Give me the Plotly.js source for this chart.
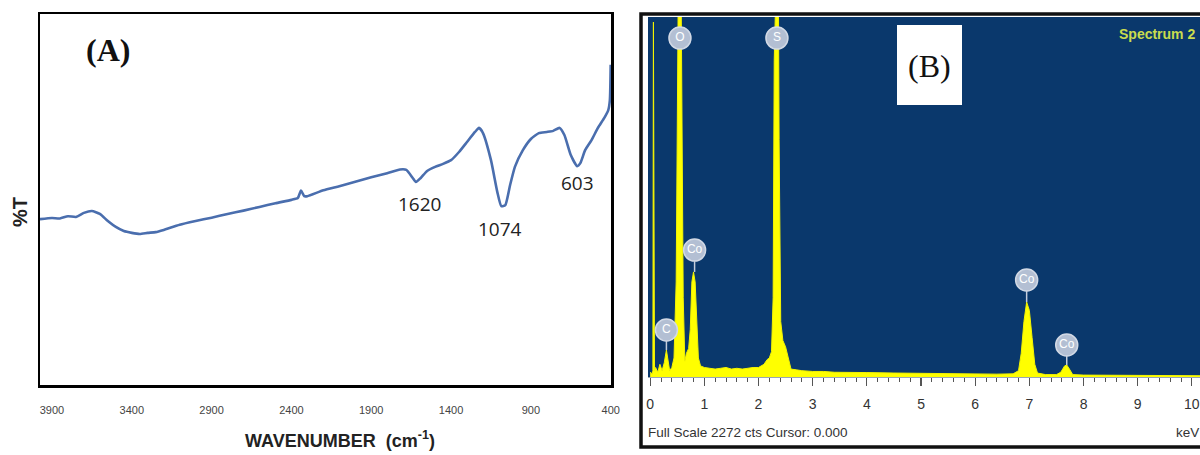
<!DOCTYPE html>
<html>
<head>
<meta charset="utf-8">
<script src="https://cdn.plot.ly/plotly-3.0.1.min.js"></script>
<style>html,body{margin:0;padding:0;background:#fff;}#chart{width:1200px;height:455px;}</style>
</head>
<body>
<div id="chart"></div>
<script>
// ---- Panel A: FTIR spectrum ----
const wavenumber = [3975,3900,3850,3800,3750,3700,3650,3600,3550,3500,3450,3400,3350,3300,3250,3200,3100,3000,2900,2800,2700,2600,2500,2400,2360,2340,2320,2300,2200,2100,2000,1900,1800,1720,1680,1640,1620,1590,1550,1500,1450,1400,1350,1300,1250,1225,1200,1150,1110,1085,1060,1030,1000,950,900,850,800,760,720,690,650,610,590,560,520,480,440,415,405,400];
const transmittance = [44.7,45.0,44.9,45.5,45.3,46.4,46.9,46.1,44.2,42.6,41.5,41.0,40.7,41.0,41.2,41.8,43.2,44.2,45.1,46.1,47.0,48.0,49.0,49.9,50.4,52.4,50.9,50.9,52.5,53.6,54.8,56.0,57.1,58.1,58.0,55.8,54.7,55.8,57.7,58.8,59.6,60.6,62.8,65.5,68.2,69.3,67.9,60.6,52.0,48.2,48.5,53.9,58.8,63.3,66.3,67.9,68.2,68.5,69.3,67.4,62.0,59.0,59.8,63.3,66.0,69.3,72.0,74.1,76.8,86.3];
const ftirTicks = [3900,3400,2900,2400,1900,1400,900,400];
const peakLabels = ["1620","1074","603"];
const peakLabelX = [1600,1094,606];
const peakLabelY = [48.8,42.0,54.4];

// ---- Panel B: EDS spectrum ----
const energy = [0.00,0.04,0.05,0.06,0.08,0.10,0.14,0.18,0.22,0.26,0.30,0.33,0.36,0.40,0.44,0.48,0.51,0.53,0.56,0.58,0.61,0.64,0.67,0.71,0.74,0.77,0.80,0.83,0.86,0.89,0.93,1.0,1.1,1.2,1.3,1.4,1.5,1.6,1.7,1.8,1.9,2.0,2.1,2.16,2.2,2.24,2.27,2.29,2.31,2.36,2.38,2.41,2.45,2.50,2.55,2.6,2.7,2.8,3.0,3.2,3.4,3.6,3.8,4.0,4.5,5.0,5.5,6.0,6.4,6.7,6.8,6.85,6.9,6.95,7.0,7.05,7.1,7.15,7.3,7.5,7.58,7.65,7.69,7.74,7.80,8.0,8.5,9.0,9.5,10.0,10.2];
const counts = [30,20,40,2240,40,60,30,80,40,90,170,100,40,60,120,600,2000,3000,3000,2000,500,100,150,180,300,600,663,600,300,120,70,60,55,50,55,60,50,55,50,55,60,60,80,110,120,160,500,2000,3000,3000,1500,350,230,190,120,50,45,40,35,35,30,30,30,28,25,22,22,20,18,20,40,150,350,473,420,250,80,25,15,15,30,70,76,50,15,12,10,10,8,8,8];
const edsTicks = [0,1,2,3,4,5,6,7,8,9,10];
const elements = ["O","S","Co","C","Co","Co"];
const elementEnergy = [0.55,2.34,0.82,0.30,6.95,7.69];
const badgeCounts = [2139,2139,801,297,612,202];
const peakTopCounts = [2070,2070,663,170,473,76];

// stems from badge to peak
const stemX = [], stemY = [];
for (let i = 0; i < elements.length; i++) {
  stemX.push(elementEnergy[i], elementEnergy[i], null);
  stemY.push(badgeCounts[i] - 70, peakTopCounts[i], null);
}

const px = v => v / 1200;
const py = v => 1 - v / 455;
const sans = "Liberation Sans, Arial, sans-serif";
const serif = "Liberation Serif, Times New Roman, serif";

const traces = [
  {x: wavenumber, y: transmittance, xaxis: 'x', yaxis: 'y', mode: 'lines',
   line: {color: '#4a6eae', width: 2.6, shape: 'spline', smoothing: 0.5}, hoverinfo: 'skip'},
  {x: energy, y: counts, xaxis: 'x2', yaxis: 'y2', mode: 'lines', fill: 'tozeroy',
   fillcolor: '#ffff00', line: {color: '#f4f400', width: 1}, hoverinfo: 'skip'},
  {x: stemX, y: stemY, xaxis: 'x2', yaxis: 'y2', mode: 'lines',
   line: {color: '#c4cddc', width: 1.5}, hoverinfo: 'skip', cliponaxis: false},
  {x: elementEnergy, y: badgeCounts, xaxis: 'x2', yaxis: 'y2', mode: 'markers+text',
   text: elements, textposition: 'middle center', cliponaxis: false,
   textfont: {family: sans, size: 12, color: '#ffffff'},
   marker: {size: 22, color: '#b3bfd3', line: {color: '#d2d9e5', width: 1.5}}, hoverinfo: 'skip'}
];

const layout = {
  width: 1200, height: 455,
  margin: {l: 0, r: 0, t: 0, b: 0},
  paper_bgcolor: '#ffffff', plot_bgcolor: 'rgba(0,0,0,0)',
  showlegend: false,
  xaxis: {domain: [px(40), px(611)], range: [3975, 398], anchor: 'y',
    tickvals: ftirTicks, ticktext: ftirTicks.map(String), ticks: '', ticklabelstandoff: 13,
    tickfont: {family: sans, size: 11, color: '#444'},
    showline: true, mirror: true, linecolor: '#000', linewidth: 2.5,
    showgrid: false, zeroline: false},
  yaxis: {domain: [py(385), py(14)], range: [0, 100], anchor: 'x',
    showticklabels: false, ticks: '', showline: true, mirror: true,
    linecolor: '#000', linewidth: 2.5, showgrid: false, zeroline: false},
  xaxis2: {domain: [px(648), 1], range: [-0.04, 10.15], anchor: 'y2',
    tickvals: edsTicks, ticktext: edsTicks.map(String), ticks: 'outside', ticklen: 8,
    tickcolor: '#555', tickwidth: 1.2, ticklabelstandoff: 6,
    minor: {dtick: 0.2, tick0: 0, ticks: 'outside', ticklen: 4, tickcolor: '#555', tickwidth: 1},
    tickfont: {family: sans, size: 14, color: '#333'},
    showline: true, linecolor: '#9aa6b4', linewidth: 1, showgrid: false, zeroline: false},
  yaxis2: {domain: [py(377), py(17)], range: [0, 2272], anchor: 'x2', visible: false,
    showgrid: false, zeroline: false},
  shapes: [
    {type: 'rect', xref: 'x2 domain', yref: 'y2 domain', x0: 0, x1: 1, y0: 0, y1: 1,
     fillcolor: '#0a386c', line: {width: 0}, layer: 'below'},
    {type: 'rect', xref: 'paper', yref: 'paper', x0: px(641), x1: px(1204), y0: py(447), y1: py(14),
     fillcolor: 'rgba(0,0,0,0)', line: {color: '#111', width: 3.5}, layer: 'above'},
    {type: 'rect', xref: 'paper', yref: 'paper', x0: px(897), x1: px(962), y0: py(105), y1: py(25),
     fillcolor: '#ffffff', line: {width: 0}, layer: 'above'}
  ],
  annotations: [
    {text: '(A)', xref: 'paper', yref: 'paper', x: px(108), y: py(50), xanchor: 'center', yanchor: 'middle',
     showarrow: false, font: {family: serif, size: 32, color: '#111', weight: 'bold'}},
    {text: '<b>%T</b>', xref: 'paper', yref: 'paper', x: px(20), y: py(212), xanchor: 'center', yanchor: 'middle',
     showarrow: false, textangle: -90, font: {family: sans, size: 20, color: '#222'}},
    {text: '<b>WAVENUMBER  (cm<sup>-1</sup>)</b>', xref: 'paper', yref: 'paper', x: px(340), y: py(439),
     xanchor: 'center', yanchor: 'middle', showarrow: false, font: {family: sans, size: 18, color: '#222'}},
    ...peakLabels.map((t, i) => ({text: t, xref: 'x', yref: 'y', x: peakLabelX[i], y: peakLabelY[i],
      xanchor: 'center', yanchor: 'middle', showarrow: false,
      font: {family: 'Open Sans, sans-serif', size: 19, color: '#222'}})),
    {text: '(B)', xref: 'paper', yref: 'paper', x: px(929.5), y: py(66), xanchor: 'center', yanchor: 'middle',
     showarrow: false, font: {family: serif, size: 32, color: '#111'}},
    {text: '<b>Spectrum 2</b>', xref: 'paper', yref: 'paper', x: px(1197), y: py(34), xanchor: 'right',
     yanchor: 'middle', showarrow: false, font: {family: sans, size: 14, color: '#c9dc4e'}},
    {text: 'Full Scale 2272 cts Cursor: 0.000', xref: 'paper', yref: 'paper', x: px(646), y: py(432),
     xanchor: 'left', yanchor: 'middle', showarrow: false, font: {family: sans, size: 13.5, color: '#333'}},
    {text: 'keV', xref: 'paper', yref: 'paper', x: px(1201), y: py(432), xanchor: 'right', yanchor: 'middle',
     showarrow: false, font: {family: sans, size: 13.5, color: '#333'}}
  ]
};

Plotly.newPlot('chart', traces, layout, {displayModeBar: false, staticPlot: true});
</script>
</body>
</html>
